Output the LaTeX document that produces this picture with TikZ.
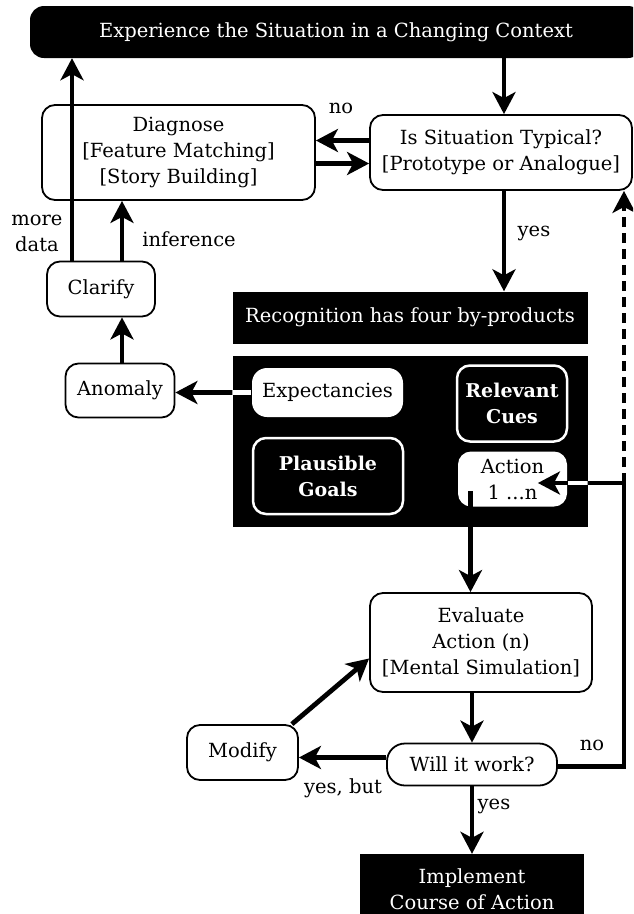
\documentclass[tikz,border=0pt]{standalone}
\usepackage{fontspec}
\setmainfont{DejaVu Serif}
\usetikzlibrary{arrows.meta}

\begin{document}
\begin{tikzpicture}[x=1pt, y=-1pt,
    font=\fontsize{19.5}{26}\selectfont,
    box/.style={draw, line width=1.8pt, fill=white, rounded corners=13pt, align=center, inner sep=0pt},
    dark/.style={fill=black, text=white, align=center, inner sep=0pt},
    darkbox/.style={draw=white, line width=2.5pt, fill=black, text=white, rounded corners=13pt,
      align=center, inner sep=0pt, font=\fontsize{19}{26}\selectfont\bfseries},
    arr/.style={-{Stealth[length=22pt, width=23pt, inset=6pt]}, line width=4.8pt},
    lbl/.style={align=center, inner sep=0pt}]
  \clip (0,0) rectangle (633,914);
  % boxes
  \node[dark, rounded corners=14pt, minimum width=612pt, minimum height=52pt] (ctx) at (336,32)
    {Experience the Situation in a Changing Context};
  \node[box, minimum width=273pt, minimum height=95pt] (diag) at (178.5,152.5)
    {Diagnose\\{}[Feature Matching]\\{}[Story Building]};
  \node[box, minimum width=262pt, minimum height=75pt] (typ) at (501,152.5)
    {Is Situation Typical?\\{}[Prototype or Analogue]};
  \node[dark, minimum width=355pt, minimum height=52pt] (rec) at (410,317.5)
    {Recognition has four by-products};
  \node[dark, minimum width=355pt, minimum height=171pt] (prod) at (410,441.5) {};
  \node[box, draw=none, rounded corners=15pt, minimum width=151pt, minimum height=49pt] (expect) at (327.5,392.5) {Expectancies};
  \node[darkbox, minimum width=110pt, minimum height=76pt] (cues) at (512,403.5) {Relevant\\Cues};
  \node[darkbox, minimum width=150pt, minimum height=76pt] (goals) at (328,476) {Plausible\\Goals};
  \node[box, draw=none, minimum width=109pt, minimum height=55pt] (action) at (512.5,479) {Action\\1 ...n};
  \node[box, minimum width=108pt, minimum height=55pt] (clarify) at (101,289) {Clarify};
  \node[box, minimum width=109pt, minimum height=54pt] (anomaly) at (120,390.5) {Anomaly};
  \node[box, minimum width=222pt, minimum height=99pt] (eval) at (481,642.5)
    {Evaluate\\Action (n)\\{}[Mental Simulation]};
  \node[box, rounded corners=18pt, minimum width=170pt, minimum height=42pt] (will) at (472,764.5) {Will it work?};
  \node[box, minimum width=111pt, minimum height=55pt] (modify) at (242.5,752.5) {Modify};
  \node[dark, minimum width=224pt, minimum height=70pt] (impl) at (472,889) {Implement\\Course of Action};
  % labels
  \node[lbl] (nolbl) at (341,108) {no};
  \node[lbl] (yeslbl) at (534,233) {yes};
  \node[lbl] (morelbl) at (37,233) {more\\data};
  \node[lbl] (inflbl) at (189,239) {inference};
  \node[lbl] (butlbl) at (343,788) {yes, but};
  \node[lbl] (nolbl2) at (592,745) {no};
  \node[lbl] (yeslbl2) at (494,806) {yes};
  % connectors
  \draw[arr] ([xshift=-29pt]clarify.north) -- ([xshift=-29pt]clarify.north |- ctx.south);
  \draw[arr] ([xshift=21pt]clarify.north) -- ([xshift=21pt]clarify.north |- diag.south);
  \draw[arr] ([xshift=2pt]anomaly.north) -- ([xshift=2pt]anomaly.north |- clarify.south);
  \draw[arr] (expect.west) -- (expect.west -| anomaly.east);
  \draw[arr] ([xshift=3pt]typ.north |- ctx.south) -- ([xshift=3pt]typ.north);
  \draw[arr] ([yshift=12pt]typ.west) -- ([yshift=12pt]typ.west -| diag.east);
  \draw[arr] ([yshift=-11pt]diag.east) -- ([yshift=-11pt]diag.east -| typ.west);
  \draw[arr] ([xshift=3pt]typ.south) -- ([xshift=3pt]typ.south |- rec.north);
  \coordinate (turn) at (624,483);
  \draw[arr] ([yshift=-2pt]will.east) -| (turn) -- ([xshift=-30pt]action.east |- turn);
  \draw[arr, dash pattern=on 10pt off 6pt] (turn) -- (turn |- typ.south);
  \draw[arr] ([xshift=-42pt,yshift=-12pt]action.center) -- ([xshift=-42pt]action.center |- eval.north);
  \draw[arr] (eval.south -| will.north) -- (will.north);
  \draw[arr] ([yshift=7pt]will.west) -- ([yshift=7pt]will.west -| modify.east);
  \draw[arr] ([xshift=-7pt]modify.north east) -- ([yshift=-16pt]eval.west);
  \draw[arr] (will.south) -- (will.south |- impl.north);
  % white parts on the black box
  \begin{scope}
    \clip (prod.south west) rectangle (prod.north east);
    \draw[line width=4.8pt, white] (expect.west) -- (expect.west -| anomaly.east);
    \draw[line width=4.8pt, white] (turn) -- (action.east |- turn);
  \end{scope}
\end{tikzpicture}
\end{document}
